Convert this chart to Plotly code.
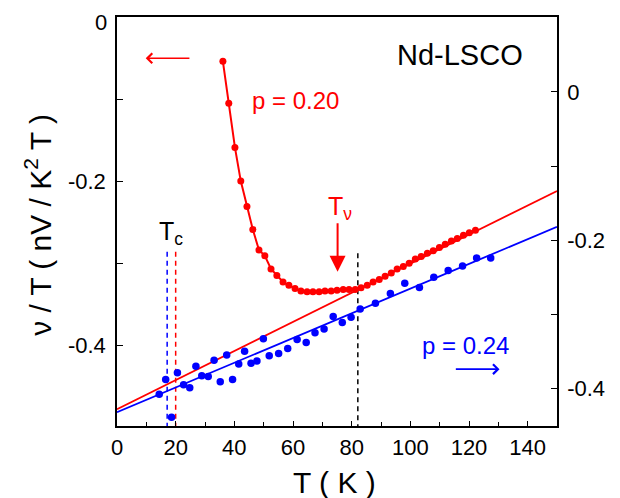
import plotly.graph_objects as go

# ---- data ----
# p = 0.20 (left axis)
T_red = [36.1, 38.1, 40.2, 42.2, 44.3, 46.3, 48.4, 50.4, 52.5, 54.5, 56.6, 58.6, 60.7,
         62.7, 64.8, 66.8, 68.9, 70.9, 73.0, 75.0, 77.1, 79.1, 81.2, 83.2, 85.3, 87.3,
         89.4, 91.4, 93.5, 95.5, 97.6, 99.6, 101.7, 103.7, 105.8, 107.8, 109.9, 111.9,
         114.0, 116.0, 118.1, 120.1, 122.2]
nu_red = [-0.054, -0.105, -0.159, -0.200, -0.231, -0.259, -0.284, -0.291, -0.307, -0.315,
          -0.323, -0.327, -0.331, -0.334, -0.335, -0.335, -0.335, -0.334, -0.334, -0.333,
          -0.332, -0.332, -0.332, -0.330, -0.327, -0.323, -0.320, -0.316, -0.312, -0.307,
          -0.304, -0.300, -0.295, -0.292, -0.288, -0.285, -0.281, -0.277, -0.273, -0.270,
          -0.266, -0.263, -0.260]
# p = 0.24 (right axis)
T_blue = [14.4, 16.6, 18.6, 20.6, 22.7, 24.8, 26.9, 28.9, 31.1, 33.1, 35.2, 37.4, 39.4,
          41.5, 43.5, 45.7, 47.7, 49.9, 51.9, 55.1, 58.2, 61.4, 64.5, 67.5, 70.6, 73.7,
          76.8, 79.8, 82.9, 88.1, 93.2, 98.1, 103.1, 108.0, 112.9, 117.8, 122.6, 127.4]
nu_blue = [-0.408, -0.388, -0.439, -0.379, -0.395, -0.399, -0.370, -0.383, -0.384, -0.362,
           -0.391, -0.355, -0.388, -0.367, -0.350, -0.366, -0.363, -0.333, -0.356, -0.353,
           -0.346, -0.334, -0.338, -0.325, -0.320, -0.303, -0.311, -0.304, -0.293, -0.285,
           -0.272, -0.258, -0.264, -0.250, -0.241, -0.235, -0.224, -0.224]
# linear fits
T_fit = [0, 150]
fit_red = [-0.478, -0.212]
fit_blue = [-0.432, -0.182]
# characteristic temperatures
Tc_blue = 17.1
Tc_red = 20.0
T_nu = 82.1
T_nu_arrow = 75.2

x_ticks = [0, 20, 40, 60, 80, 100, 120, 140]
yl_ticks = [0, -0.2, -0.4]
yl_text = ["", "-0.2", "-0.4"]   # the "0" at the very top is drawn as a label below
yl_top_label = "0"
yr_ticks = [0, -0.2, -0.4]
yr_text = ["0", "-0.2", "-0.4"]

RED = "#ff0000"
BLUE = "#0000ff"
FONT = "Liberation Sans, Arial, Helvetica, sans-serif"

fig = go.Figure()

# dashed markers of Tc and Tnu
fig.add_trace(go.Scatter(x=[Tc_blue, Tc_blue], y=[-0.286, -0.6], mode="lines",
                         line=dict(color=BLUE, width=1.5, dash="5px,4px"), hoverinfo="skip"))
fig.add_trace(go.Scatter(x=[Tc_red, Tc_red], y=[-0.286, -0.6], mode="lines",
                         line=dict(color=RED, width=1.5, dash="5px,4px"), hoverinfo="skip"))
fig.add_trace(go.Scatter(x=[T_nu, T_nu], y=[-0.288, -0.6], mode="lines",
                         line=dict(color="black", width=1.5, dash="5px,4px"), hoverinfo="skip"))

# fits
fig.add_trace(go.Scatter(x=T_fit, y=fit_red, mode="lines", line=dict(color=RED, width=1.8)))
fig.add_trace(go.Scatter(x=T_fit, y=fit_blue, mode="lines", line=dict(color=BLUE, width=1.8),
                         yaxis="y2"))

# data
fig.add_trace(go.Scatter(x=T_red, y=nu_red, mode="lines+markers",
                         line=dict(color=RED, width=2), marker=dict(color=RED, size=7)))
fig.add_trace(go.Scatter(x=T_blue, y=nu_blue, mode="markers",
                         marker=dict(color=BLUE, size=7.5), yaxis="y2"))

ann = []
# left arrow (p=0.20 -> left axis)
ann.append(dict(x=9.8, y=-0.0503, ax=25.2, ay=-0.0503, xref="x", yref="y", axref="x", ayref="y",
                showarrow=True, arrowhead=4, arrowsize=1.2, arrowwidth=1.6, arrowcolor=RED, text=""))
# right arrow (p=0.24 -> right axis)
ann.append(dict(x=130.4, y=-0.374, ax=115.0, ay=-0.374, xref="x", yref="y2", axref="x", ayref="y2",
                showarrow=True, arrowhead=4, arrowsize=1.2, arrowwidth=1.6, arrowcolor=BLUE, text=""))
# Tnu arrow
ann.append(dict(x=T_nu_arrow, y=-0.3104, ax=T_nu_arrow, ay=-0.2495, xref="x", yref="y", axref="x", ayref="y",
                showarrow=True, arrowhead=2, arrowsize=1.6, arrowwidth=2, arrowcolor=RED, text=""))


def label(x, y, text, size, color, angle=0, xanchor="center", yanchor="middle"):
    return dict(x=x, y=y, xref="paper", yref="paper", text=text, showarrow=False,
                xanchor=xanchor, yanchor=yanchor, textangle=angle,
                font=dict(family=FONT, size=size, color=color))


ann.append(label(-0.018, 1.0215, yl_top_label, 22, "black", xanchor="right", yanchor="top"))
ann.append(label(0.780, 0.906, "Nd-LSCO", 29, "black"))
ann.append(label(0.4056, 0.797, "p = 0.20", 24, RED))
ann.append(label(0.793, 0.198, "p = 0.24", 24, BLUE))
ann.append(label(0.507, 0.533, "T<sub>ν</sub>", 25, RED))
ann.append(label(0.122, 0.472, "T<sub>c</sub>", 25, "black"))
# axis titles
ann.append(label(-0.178, 0.491, "ν / T ( nV / K<sup>2</sup> T )", 30, "black", -90))
ann.append(label(0.495, -0.139, "T ( K )", 30, "black"))

fig.update_layout(
    template="none",
    width=612, height=490,
    margin=dict(l=109, r=63, t=9, b=72, autoexpand=False),
    paper_bgcolor="white", plot_bgcolor="white",
    showlegend=False,
    font=dict(family=FONT, size=22, color="black"),
    annotations=ann,
    xaxis=dict(range=[0, 150], tickvals=x_ticks, ticks="inside", ticklen=5, tickwidth=1.2,
               tickcolor="black", showline=True, linecolor="black", linewidth=1.5, mirror=True,
               showgrid=False, zeroline=False, ticklabelstandoff=1, automargin=False,
               ticklabeloverflow="allow",
               minor=dict(dtick=10, tick0=0, ticks="inside", ticklen=4, tickcolor="black", showgrid=False)),
    yaxis=dict(range=[-0.4985, 0], tickvals=yl_ticks, ticktext=yl_text, ticks="inside", ticklen=6,
               tickwidth=1.2, tickcolor="black", showline=True, linecolor="black", linewidth=1.5,
               showgrid=False, zeroline=False, ticklabelstandoff=5, automargin=False,
               ticklabeloverflow="allow",
               minor=dict(tickvals=[-0.1, -0.3], ticks="inside", ticklen=6, tickcolor="black", showgrid=False)),
    yaxis2=dict(range=[-0.4507, 0.1011], overlaying="y", side="right", tickvals=yr_ticks, ticktext=yr_text,
                ticks="inside", ticklen=6, tickwidth=1.2, tickcolor="black", showline=True,
                linecolor="black", linewidth=1.5, showgrid=False, zeroline=False, ticklabelstandoff=4,
                automargin=False, ticklabeloverflow="allow",
                minor=dict(tickvals=[0.1, -0.1, -0.3], ticks="inside", ticklen=6, tickcolor="black", showgrid=False)),
)

fig.write_html("out.html")
